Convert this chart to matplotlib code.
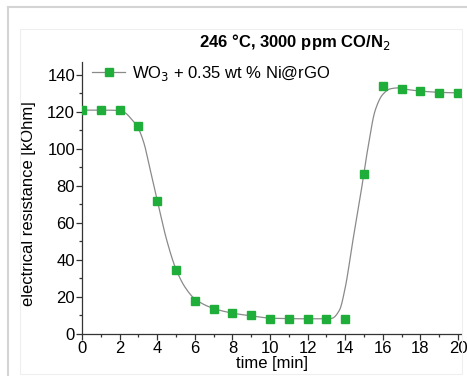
import numpy as np
import matplotlib
matplotlib.use("Agg")
import matplotlib.pyplot as plt
from matplotlib.ticker import MultipleLocator
from matplotlib.lines import Line2D

plt.rcParams['font.family'] = ['Liberation Sans', 'DejaVu Sans']

# measured points
time_min = [0, 1, 2, 3, 4, 5, 6, 7, 8, 9, 10, 11, 12, 13, 14, 15, 16, 17, 18, 19, 20]
resistance = [121, 121, 121, 112.5, 72, 34.5, 18, 13.5, 11.5, 10, 8.2, 8.2, 8.2, 8.2, 8.2,
              86.5, 134, 132.2, 131.3, 130.5, 130.5]

# fitted curve
curve_t = [0, 1, 2, 2.3, 2.6, 3.0, 3.3, 3.6, 4.0, 4.5, 5.0, 5.5, 6.0, 7, 8, 9, 10, 11, 12,
           13, 13.3, 13.7, 14.0, 14.4, 14.8, 15.2, 15.6, 16.0, 16.4, 16.8, 17, 18, 19, 20]
curve_r = [121, 121, 120.8, 119.5, 116.5, 111, 103, 90, 72.5, 51, 35, 25, 19, 13.8, 11.3,
           9.8, 8.6, 8.3, 8.2, 8.2, 8.5, 13, 25, 50, 74, 100, 121, 129.5, 132.5, 133, 132.6,
           131.3, 130.6, 130.3]


def pchip(x, y, xs):
    x = np.asarray(x, float)
    y = np.asarray(y, float)
    h = np.diff(x)
    d = np.diff(y) / h
    m = np.zeros_like(y)
    m[0], m[-1] = d[0], d[-1]
    for k in range(1, len(x) - 1):
        if d[k - 1] * d[k] > 0:
            w1 = 2 * h[k] + h[k - 1]
            w2 = h[k] + 2 * h[k - 1]
            m[k] = (w1 + w2) / (w1 / d[k - 1] + w2 / d[k])
    i = np.clip(np.searchsorted(x, xs) - 1, 0, len(x) - 2)
    s = (xs - x[i]) / h[i]
    h00 = 2 * s**3 - 3 * s**2 + 1
    h10 = s**3 - 2 * s**2 + s
    h01 = -2 * s**3 + 3 * s**2
    h11 = s**3 - s**2
    return h00 * y[i] + h10 * h[i] * m[i] + h01 * y[i + 1] + h11 * h[i] * m[i + 1]


fig = plt.figure(figsize=(4.67, 3.76), dpi=100)

# frame lines round the picture
fig.add_artist(Line2D([8 / 467, 1], [1 - 7 / 376, 1 - 7 / 376], color='#d4d4d4', lw=1.5))
fig.add_artist(Line2D([8 / 467, 8 / 467], [0, 1 - 7 / 376], color='#d4d4d4', lw=1.5))
fig.add_artist(plt.Rectangle((20 / 467, 2 / 376), 442 / 467, 345 / 376, fill=False,
                             edgecolor='#efefef', lw=0.8))

ax = fig.add_axes([82 / 467, 42 / 376, 379 / 467, 272 / 376])

ts = np.linspace(0, 20, 600)
ax.plot(ts, pchip(curve_t, curve_r, ts), color='#8a8a8a', lw=0.9, zorder=2)
ax.plot(time_min, resistance, ls='none', marker='s', ms=5.2, color='#1fae3a', zorder=3)

ax.set_xlim(0, 20.16)
ax.set_ylim(0, 147)
ax.xaxis.set_major_locator(MultipleLocator(2))
ax.xaxis.set_minor_locator(MultipleLocator(1))
ax.yaxis.set_major_locator(MultipleLocator(20))
ax.yaxis.set_minor_locator(MultipleLocator(10))
for s in ['top', 'right']:
    ax.spines[s].set_visible(False)
for s in ['left', 'bottom']:
    ax.spines[s].set_color('#333333')
    ax.spines[s].set_linewidth(0.9)
ax.tick_params(which='major', length=4, width=0.9, labelsize=12, color='#333333', pad=1)
ax.tick_params(which='minor', length=2.5, width=0.9, color='#333333')

ax.set_xlabel('time [min]', fontsize=12, labelpad=0)
ax.set_ylabel('electrical resistance [kOhm]', fontsize=12)
ax.yaxis.set_label_coords(-0.122, 0.48)

leg_handle = Line2D([], [], color='#8a8a8a', lw=0.9, marker='s', ms=5.2,
                    markerfacecolor='#1fae3a', markeredgecolor='#1fae3a')
ax.legend([leg_handle], ['WO$_3$ + 0.35 wt % Ni@rGO'], loc='upper left',
          bbox_to_anchor=(0.0, 1.03), frameon=False, fontsize=12,
          handlelength=2.0, handletextpad=0.4, borderaxespad=0.2)

fig.text(295 / 467, 1 - 42 / 376, '246 °C, 3000 ppm CO/N$_2$', fontsize=12,
         fontweight='bold', ha='center', va='center')

fig.savefig('out.png', dpi=100)
